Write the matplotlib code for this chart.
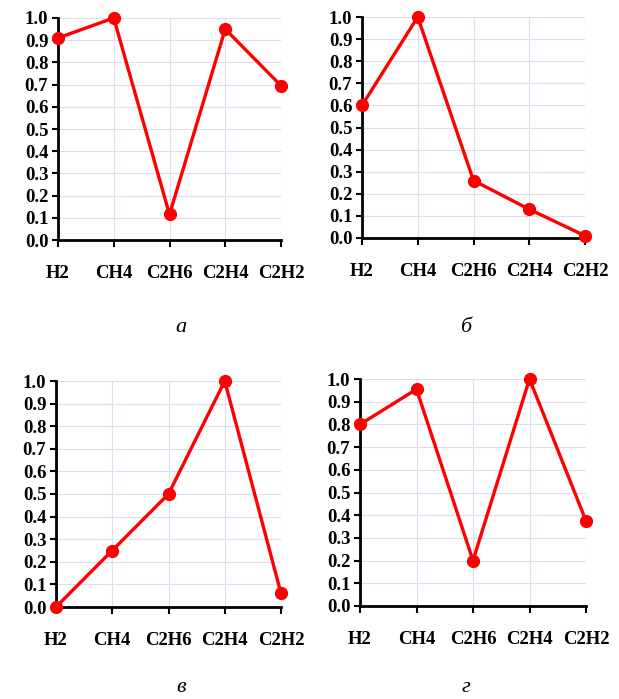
import matplotlib
matplotlib.use("Agg")
import matplotlib.pyplot as plt

categories = ["H2", "CH4", "C2H6", "C2H4", "C2H2"]
values_a = [0.91, 1.0, 0.115, 0.95, 0.695]
values_b = [0.60, 1.0, 0.26, 0.13, 0.01]
values_c = [0.0, 0.25, 0.50, 1.0, 0.06]
values_d = [0.80, 0.955, 0.20, 1.0, 0.375]
captions = ["а", "б", "в", "г"]
yticks = [i / 10 for i in range(11)]

fig = plt.figure(figsize=(6.19, 6.99), dpi=100)

W, H = 619, 699
boxes = [
    (58, 281, 18, 240),
    (362, 585, 17, 238),
    (56, 281, 381, 607),
    (360, 586, 379, 606),
]
cap_pos = [(181, 327), (466, 327), (181, 687), (466, 687)]
series = [values_a, values_b, values_c, values_d]

for (l, r, t, b), vals, cap, (cx, cy) in zip(boxes, series, captions, cap_pos):
    ax = fig.add_axes([l / W, (H - b) / H, (r - l) / W, (b - t) / H])
    x = list(range(len(categories)))
    ax.plot(x, vals, color="#ff0000", lw=2.4, marker="o", ms=8.5,
            clip_on=False, zorder=5)
    ax.set_xlim(0, len(categories) - 1)
    ax.set_ylim(0, 1)
    ax.set_xticks(x)
    ax.set_xticklabels(categories)
    ax.set_yticks(yticks)
    ax.set_yticklabels([f"{v:.1f}" for v in yticks])
    ax.grid(True, color="#dcdcf6", lw=0.8)
    ax.set_axisbelow(True)
    for s in ("top", "right"):
        ax.spines[s].set_visible(False)
    for s in ("left", "bottom"):
        ax.spines[s].set_linewidth(2)
        ax.spines[s].set_color("black")
    ax.tick_params(axis="y", direction="out", length=4, width=1.5, pad=3)
    ax.tick_params(axis="x", direction="out", length=5, width=1.5, pad=13)
    for lab in ax.get_xticklabels() + ax.get_yticklabels():
        lab.set_fontfamily("Liberation Serif")
        lab.set_fontweight("bold")
        lab.set_fontsize(13.5)
    fig.text(cx / W, (H - cy) / H, cap, ha="center", va="center",
             fontfamily="Liberation Serif", fontstyle="italic", fontsize=16)

fig.savefig("out.png", dpi=100)
